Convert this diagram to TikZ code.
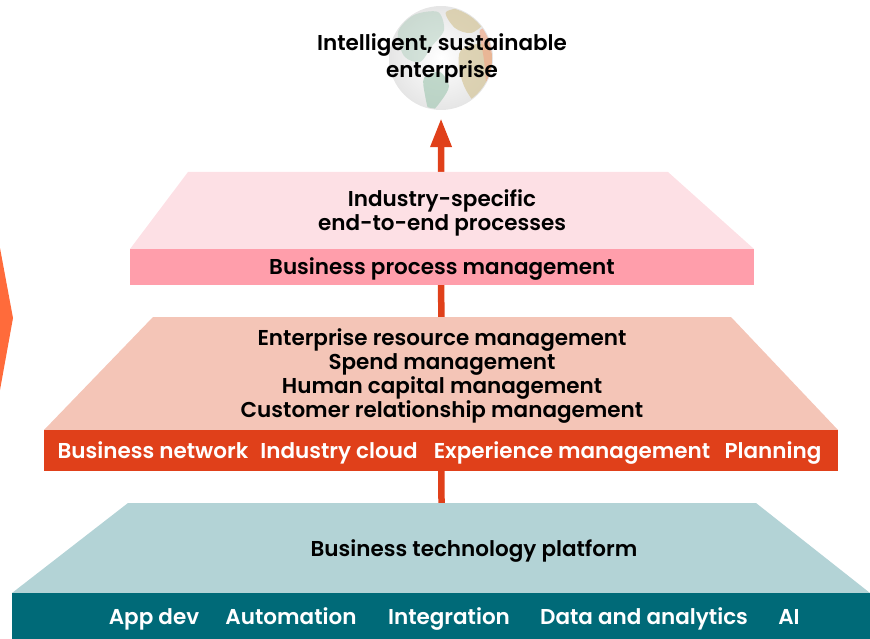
\documentclass[tikz,border=0pt]{standalone}
\usepackage{fontspec}
\usetikzlibrary{arrows.meta}
\newfontfamily\semib{Poppins SemiBold}
\definecolor{pinklight}{HTML}{FDE0E5}
\definecolor{pinkbar}{HTML}{FF9EAB}
\definecolor{salmon}{HTML}{F4C5B7}
\definecolor{redbar}{HTML}{E0401A}
\definecolor{teallight}{HTML}{B3D3D6}
\definecolor{tealbar}{HTML}{006A78}
\definecolor{chevron}{HTML}{FF6B3B}
\definecolor{landgreen}{HTML}{A9CBB8}
\definecolor{landtan}{HTML}{D7C9A0}
\definecolor{landorange}{HTML}{F1A987}

\begin{document}
\begin{tikzpicture}[x=1pt,y=-1pt,
        tiertext/.style={font=\semib\fontsize{21.5}{24}\selectfont,align=center,inner sep=0pt},
        linetext/.style={tiertext,anchor=base},
        bartext/.style={linetext,text=white},
        flow/.style={draw=redbar,line width=6.5pt,-{Triangle[width=20pt,length=29pt]}}]
    \useasboundingbox (0,0) rectangle (870,639);

    % chevron cut by the left edge
    \fill[chevron] (-20,248) -- (0,248) -- (13,318) -- (0,390) -- (-20,390) -- cycle;

    % globe
    \node[circle,minimum size=104pt,inner sep=0pt,inner color=white,outer color=black!10] (globe) at (441,58) {};
    \begin{scope}
        \clip (globe) circle (51pt);
        \fill[landgreen,opacity=.45] plot[smooth cycle] coordinates {(398,32) (414,15) (438,12) (444,30) (432,46) (420,62) (404,56)};
        \fill[landgreen,opacity=.7] plot[smooth cycle] coordinates {(424,78) (440,72) (449,86) (441,101) (430,112) (425,95)};
        \fill[landtan,opacity=.75] plot[smooth cycle] coordinates {(446,12) (470,8) (484,22) (471,33) (455,28)};
        \fill[landtan,opacity=.75] plot[smooth cycle] coordinates {(461,50) (482,44) (494,60) (489,86) (476,102) (465,88) (459,68)};
        \fill[landorange,opacity=.65] plot[smooth cycle] coordinates {(480,30) (495,35) (496,75) (488,95) (484,60)};
    \end{scope}

    % the arrow runs behind the tiers
    \coordinate (base) at (441.5,503);
    \draw[flow,shorten >=8pt] (base) -- (globe.south);

    % top tier
    \fill[pinklight] (188,172) -- (668,172) -- (754,249) -- (130,249) -- cycle;
    \fill[pinkbar] (130,249) rectangle (754,285);
    % middle tier
    \fill[salmon] (153,317) -- (731,317) -- (838,430) -- (44,430) -- cycle;
    \fill[redbar] (44,430) rectangle (838,471);
    % bottom tier
    \fill[teallight] (128,503) -- (756,503) -- (870,593) -- (12,593) -- cycle;
    \fill[tealbar] (12,593) rectangle (870,639);

    \node[tiertext,font=\semib\fontsize{21.5}{27}\selectfont] (goal) at (442,58) {Intelligent, sustainable\\enterprise};

    \node[tiertext] (process) at (442,213) {Industry-specific\\end-to-end processes};
    \node[linetext] (bpm) at (442,274) {Business process management};

    \node[tiertext] (suite) at (442,376.5) {Enterprise resource management\\Spend management\\Human capital management\\Customer relationship management};
    \node[bartext] (network) at (153,458) {Business network};
    \node[bartext] (cloud) at (339,458) {Industry cloud};
    \node[bartext] (experience) at (572,458) {Experience management};
    \node[bartext] (planning) at (773,458) {Planning};

    \node[linetext] (btp) at (474,556) {Business technology platform};
    \node[bartext] (appdev) at (154,624) {App dev};
    \node[bartext] (automation) at (291,624) {Automation};
    \node[bartext] (integration) at (449,624) {Integration};
    \node[bartext] (analytics) at (644,624) {Data and analytics};
    \node[bartext] (ai) at (789,624) {AI};
\end{tikzpicture}
\end{document}
